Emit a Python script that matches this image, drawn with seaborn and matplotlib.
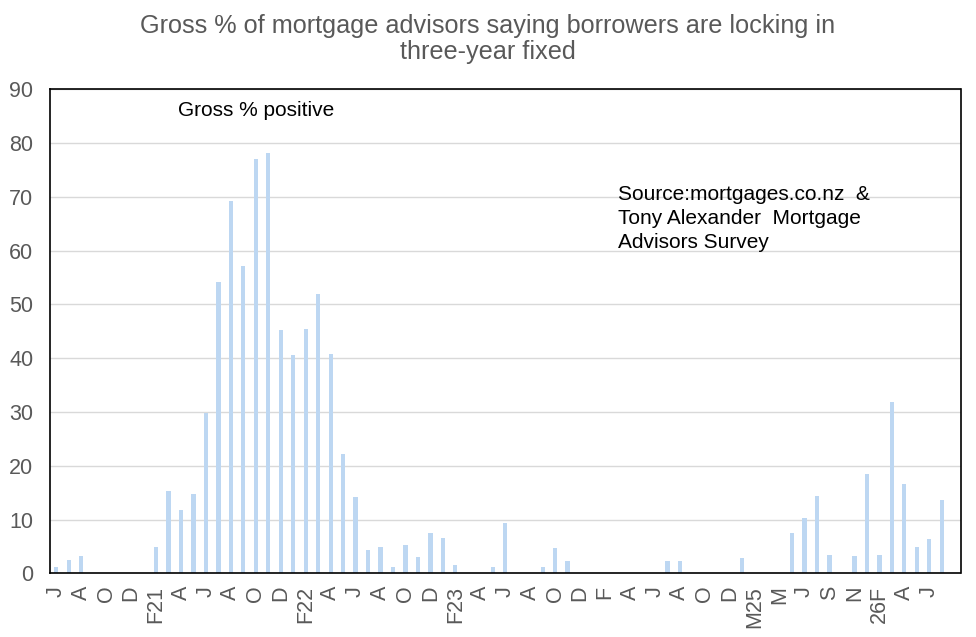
import matplotlib
matplotlib.use("Agg")
import matplotlib.pyplot as plt
import seaborn as sns
import pandas as pd
import numpy as np

# ---- data ----
values = [1.2, 2.5, 3.2, 0, 0, 0, 0, 0, 4.9, 15.3, 11.8, 14.7,
          29.8, 54.2, 69.3, 57.1, 77.1, 78.2, 45.2, 40.6, 45.4, 51.9, 40.8, 22.1,
          14.2, 4.3, 4.9, 1.2, 5.3, 3.0, 7.5, 6.6, 1.5, 0, 0, 1.2,
          9.4, 0, 0, 1.2, 4.7, 2.3, 0, 0, 0, 0, 0, 0,
          0, 2.3, 2.3, 0, 0, 0, 0, 2.8, 0, 0, 0, 7.5,
          10.3, 14.4, 3.4, 0, 3.2, 18.5, 3.4, 31.8, 16.6, 4.9, 6.4, 13.6]
n_slots = 73  # the category axis has one empty slot at the end
tick_labels = ["J", "A", "O", "D", "F21", "A", "J", "A", "O", "D", "F22", "A",
               "J", "A", "O", "D", "F23", "A", "J", "A", "O", "D", "F", "A",
               "J", "A", "O", "D", "M25", "M", "J", "S", "N", "26F", "A", "J"]

title = "Gross % of mortgage advisors saying borrowers are locking in\nthree-year fixed"
series_name = "Gross % positive"
source_text = "Source:mortgages.co.nz  &\nTony Alexander  Mortgage\nAdvisors Survey"

# ---- build frame ----
cats = [f"c{i}" for i in range(n_slots)]
df = pd.DataFrame({"cat": cats[:len(values)], "val": values})

sns.set_theme(style="white")
plt.rcParams['font.family'] = ['Liberation Sans', 'DejaVu Sans']

W, H = 976, 637
fig = plt.figure(figsize=(W / 100, H / 100), dpi=100)
ax = fig.add_axes([50 / W, 1 - 573.3 / H, (960.5 - 50) / W, (573.3 - 89.3) / H])

sns.barplot(data=df, x="cat", y="val", order=cats, color="#bdd7f2",
            width=0.34, ax=ax, saturation=1, linewidth=0, edgecolor="none")

ax.set_ylim(0, 90)
ax.set_xlim(-0.5, n_slots - 0.5)
ax.set_yticks(np.arange(0, 91, 10))
ax.set_xticks(np.arange(0, 2 * len(tick_labels), 2))
ax.set_xticklabels(tick_labels, rotation=90)
ax.tick_params(axis="both", colors="#595959", labelsize=15.5, length=0)
ax.tick_params(axis="y", pad=12)
ax.tick_params(axis="x", pad=9)
ax.set_xlabel("")
ax.set_ylabel("")
ax.yaxis.grid(True, color="#d9d9d9", linewidth=1)
ax.set_axisbelow(True)
for s in ax.spines.values():
    s.set_visible(True)
    s.set_color("black")
    s.set_linewidth(1.2)

fig.text(0.5, 1 - 39 / H, title, ha="center", va="center", fontsize=18.2,
         color="#595959", linespacing=1.12)
fig.text(178 / W, 1 - 111 / H, series_name, fontsize=15, color="black",
         va="center", ha="left")
fig.text(618 / W, 1 - 185 / H, source_text, ha="left", va="top",
         fontsize=15, color="black", linespacing=1.33)

fig.savefig("out.png", dpi=100)
